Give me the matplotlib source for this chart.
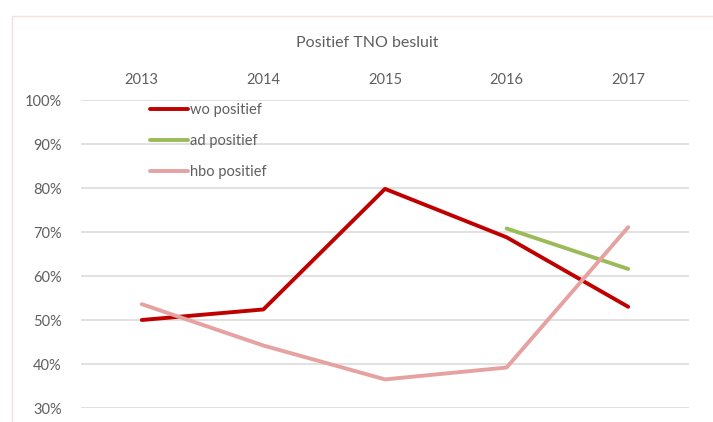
import matplotlib
matplotlib.use('Agg')
from matplotlib import pyplot as plt
from matplotlib.patches import Rectangle
from matplotlib.ticker import PercentFormatter

# data
jaren = ['2013', '2014', '2015', '2016', '2017']
wo_positief = [0.50, 0.524, 0.798, 0.688, 0.530]
ad_jaren = ['2016', '2017']
ad_positief = [0.708, 0.616]
hbo_positief = [0.536, 0.442, 0.365, 0.392, 0.711]

W, H = 713, 422
plt.rcParams['font.family'] = ['Lato', 'DejaVu Sans']
fig = plt.figure(figsize=(W / 100, H / 100), dpi=100)

# lichte rand om de grafiek
fig.patches.append(Rectangle((12 / W, -0.1), 1.2, 1 - 16 / H + 0.1, transform=fig.transFigure,
                             fill=False, edgecolor='#F9DCDC', linewidth=1.0))

ax = fig.add_axes([81 / W, 1 - 408 / H, (689 - 81) / W, (408 - 100) / H])

x = list(range(len(jaren)))
x_ad = [jaren.index(j) for j in ad_jaren]
ax.plot(x, wo_positief, color='#C00000', lw=2.8, label='wo positief', solid_capstyle='round', zorder=3)
ax.plot(x_ad, ad_positief, color='#9BBB59', lw=2.8, label='ad positief', solid_capstyle='round', zorder=3)
ax.plot(x, hbo_positief, color='#E6A1A1', lw=2.8, label='hbo positief', solid_capstyle='round', zorder=3)

ax.set_xlim(-0.5, len(jaren) - 0.5)
ax.set_ylim(0.3, 1.0)
ax.set_yticks([0.3, 0.4, 0.5, 0.6, 0.7, 0.8, 0.9, 1.0])
ax.yaxis.set_major_formatter(PercentFormatter(1.0, decimals=0))
ax.set_xticks(x)
ax.set_xticklabels(jaren)
ax.xaxis.tick_top()
ax.tick_params(axis='both', length=0, labelsize=10.5, colors='#5F5F5F')
ax.tick_params(axis='x', pad=9)
ax.tick_params(axis='y', pad=14)
ax.grid(axis='y', color='#D9D9D9', lw=1.1)
ax.set_axisbelow(True)
for s in ax.spines.values():
    s.set_visible(False)

leg = ax.legend(loc='upper left', bbox_to_anchor=((150 - 81) / 608, 1 - 3 / 308), frameon=False,
                fontsize=10.5, handlelength=2.6, handletextpad=0.15, labelspacing=1.18,
                borderpad=0, borderaxespad=0)
for t in leg.get_texts():
    t.set_color('#5F5F5F')

fig.text(367 / W, 1 - 43 / H, 'Positief TNO besluit', ha='center', va='center',
         fontsize=11.5, color='#5F5F5F')

fig.savefig('out.png', dpi=100)
